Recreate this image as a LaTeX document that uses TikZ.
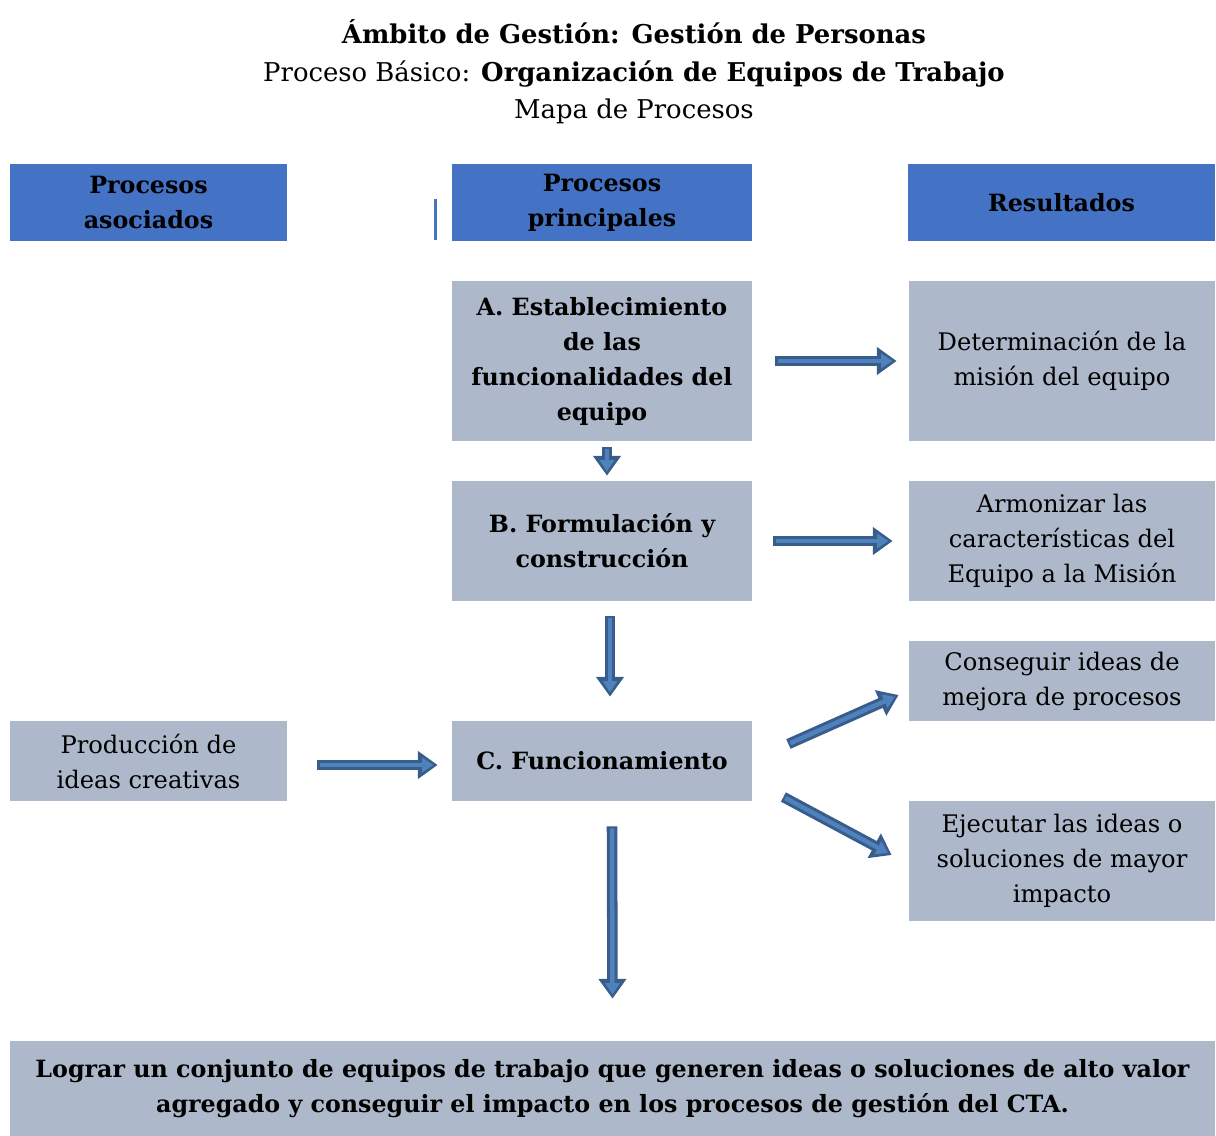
\documentclass[tikz,border=0pt]{standalone}
\usepackage{fontspec}
\setmainfont{DejaVu Serif}
\usetikzlibrary{arrows.meta,positioning,calc}
\definecolor{headblue}{RGB}{68,114,196}
\definecolor{boxgray}{RGB}{173,185,202}
\definecolor{arrowedge}{RGB}{56,93,138}
\definecolor{arrowfill}{RGB}{79,129,189}
\newcommand{\boxfont}{\fontsize{17.2}{24.9}\selectfont}
\newcommand{\boldfont}{\fontsize{16.9}{24.9}\selectfont\bfseries}
\newcommand{\titlefont}{\fontsize{18.4}{26.7}\selectfont}
\tikzset{
    >={Triangle[]},
    every picture/.style={line width=0.5pt},
    head/.style={fill=headblue,align=center,font=\boldfont,inner sep=0pt},
    box/.style={fill=boxgray,align=center,font=\boxfont,inner sep=0pt},
    barrow/.style={arrowfill,line width=3.2pt,shorten <=1.5pt,shorten >=3pt,
        -{Triangle[width=10pt,length=8pt]},
        preaction={draw=arrowedge,line width=7.5pt,shorten <=0pt,shorten >=0pt,
            -{Triangle[width=19pt,length=14pt]}}}
}

\begin{document}
\begin{tikzpicture}[x=0.025cm,y=-0.025cm]
    \useasboundingbox (0,0) rectangle (1216,1136);

    % title
    \node[align=center,font=\titlefont] (title) at (634,72)
        {\textbf{Ámbito de Gestión: Gestión de Personas}\\
         Proceso Básico: \textbf{Organización de Equipos de Trabajo}\\
         Mapa de Procesos};

    % headers
    \node[head,minimum width=6.925cm,minimum height=1.925cm] (hasoc) at (148.5,202.5) {Procesos\\asociados};
    \node[head,minimum width=7.5cm,minimum height=1.925cm] (hprin) at (602,202.5) {Procesos\\principales};
    \node[head,minimum width=7.675cm,minimum height=1.925cm] (hres) at (1061.5,202.5) {Resultados};
    \draw[headblue,line width=2pt] (435.5,199) -- (435.5,240);

    % main processes
    \node[box,minimum width=7.5cm,minimum height=4cm,font=\boldfont] (A) at (602,361)
        {A. Establecimiento\\de las\\funcionalidades del\\equipo};
    \node[box,minimum width=7.5cm,minimum height=3cm,font=\boldfont] (B) at (602,541)
        {B. Formulación y\\construcción};
    \node[box,minimum width=7.5cm,minimum height=2cm,font=\boldfont] (C) at (602,761)
        {C. Funcionamiento};

    % associated
    \node[box,minimum width=6.925cm,minimum height=2cm] (prod) at (148.5,761)
        {Producción de\\ideas creativas};

    % results
    \node[box,minimum width=7.65cm,minimum height=4cm] (res1) at (1062,361)
        {Determinación de la\\misión del equipo};
    \node[box,minimum width=7.65cm,minimum height=3cm] (res2) at (1062,541)
        {Armonizar las\\características del\\Equipo a la Misión};
    \node[box,minimum width=7.65cm,minimum height=2cm] (res3) at (1062,681)
        {Conseguir ideas de\\mejora de procesos};
    \node[box,minimum width=7.65cm,minimum height=3cm] (res4) at (1062,861)
        {Ejecutar las ideas o\\soluciones de mayor\\impacto};

    % goal
    \node[box,minimum width=30.125cm,minimum height=2.375cm,font=\boldfont] (goal) at (612.5,1088.5)
        {Lograr un conjunto de equipos de trabajo que generen ideas o soluciones de alto valor\\
         agregado y conseguir el impacto en los procesos de gestión del CTA.};

    % arrows
    \draw[barrow] ($(A.east)+(23,0)$) -- ($(res1.west)+(-12,0)$);
    \draw[barrow] ($(A.south)+(5,6)$) -- ($(B.north)+(5,-5)$);
    \draw[barrow] ($(B.east)+(21,0)$) -- ($(res2.west)+(-16,0)$);
    \draw[barrow] ($(B.south)+(8,15)$) -- ($(C.north)+(8,-24)$);
    \draw[barrow] ($(prod.east)+(30,4)$) -- ($(C.west)+(-14,4)$);
    \draw[barrow] ($(C.east)+(36,-17)$) -- ($(res3.west)+(-10,14)$);
    \draw[barrow] ($(C.east)+(31,36)$) -- ($(res4.west)+(-17,-6)$);
    \draw[barrow] ($(C.south)+(10,25)$) -- ($(goal.north)+(0,-42)$);
\end{tikzpicture}
\end{document}
